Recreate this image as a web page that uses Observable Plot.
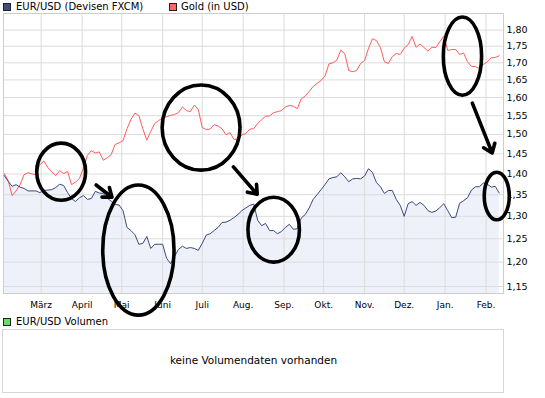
<!DOCTYPE html>
<html><head><meta charset="utf-8">
<script src="https://cdn.jsdelivr.net/npm/d3@7"></script>
<script src="https://cdn.jsdelivr.net/npm/@observablehq/plot@0.6"></script>
<style>
body{margin:0;background:#fff;font-family:"DejaVu Sans",Verdana,sans-serif;color:#000;}
#wrap{position:relative;width:545px;height:398px;overflow:hidden;}
#chart{position:absolute;left:0;top:0;}
#chart svg{overflow:visible;}
.leg{position:absolute;font-size:10px;line-height:12px;white-space:nowrap;}
.sw{position:absolute;width:6px;height:6px;border:1px solid #222;}
#box{position:absolute;left:2px;top:329px;width:502px;height:64px;border:1px solid #d6d6d6;box-sizing:border-box;}
#msg{position:absolute;left:0;width:507px;top:354px;text-align:center;font-size:10.5px;line-height:13px;}
</style></head>
<body>
<div id="wrap">
  <div id="chart"></div>
  <div class="sw" style="left:3px;top:3px;background:#3d4f82"></div>
  <div class="leg" style="left:16px;top:1px">EUR/USD (Devisen FXCM)</div>
  <div class="sw" style="left:169px;top:3px;background:#ff6666"></div>
  <div class="leg" style="left:181px;top:1px">Gold (in USD)</div>
  <div class="sw" style="left:3px;top:318px;background:#66dd66"></div>
  <div class="leg" style="left:16px;top:316px">EUR/USD Volumen</div>
  <div id="box"></div>
  <div id="msg">keine Volumendaten vorhanden</div>
</div>
<script>
const dates = [
"2010-02-01","2010-02-04","2010-02-07","2010-02-10","2010-02-13","2010-02-16","2010-02-19","2010-02-22","2010-02-25","2010-02-28",
"2010-03-03","2010-03-06","2010-03-09","2010-03-12","2010-03-15","2010-03-18","2010-03-21","2010-03-24","2010-03-27","2010-03-30",
"2010-04-02","2010-04-05","2010-04-08","2010-04-11","2010-04-14","2010-04-17","2010-04-20","2010-04-23","2010-04-26","2010-04-29",
"2010-05-02","2010-05-05","2010-05-08","2010-05-11","2010-05-14","2010-05-17","2010-05-20","2010-05-23","2010-05-26","2010-05-29",
"2010-06-01","2010-06-04","2010-06-07","2010-06-10","2010-06-13","2010-06-16","2010-06-19","2010-06-22","2010-06-25","2010-06-28",
"2010-07-01","2010-07-04","2010-07-07","2010-07-10","2010-07-13","2010-07-16","2010-07-19","2010-07-22","2010-07-25","2010-07-28",
"2010-07-31","2010-08-03","2010-08-06","2010-08-09","2010-08-12","2010-08-15","2010-08-18","2010-08-21","2010-08-24","2010-08-27",
"2010-08-30","2010-09-02","2010-09-05","2010-09-08","2010-09-11","2010-09-14","2010-09-17","2010-09-20","2010-09-23","2010-09-26",
"2010-09-29","2010-10-02","2010-10-05","2010-10-08","2010-10-11","2010-10-14","2010-10-17","2010-10-20","2010-10-23","2010-10-26",
"2010-10-29","2010-11-01","2010-11-04","2010-11-07","2010-11-10","2010-11-13","2010-11-16","2010-11-19","2010-11-22","2010-11-25",
"2010-11-28","2010-12-01","2010-12-04","2010-12-07","2010-12-10","2010-12-13","2010-12-16","2010-12-19","2010-12-22","2010-12-25",
"2010-12-28","2010-12-31","2011-01-03","2011-01-06","2011-01-09","2011-01-12","2011-01-15","2011-01-18","2011-01-21","2011-01-24",
"2011-01-27","2011-01-30","2011-02-02","2011-02-05","2011-02-08","2011-02-11"];

const eurusd = [
1.396,1.382,1.370,1.374,1.368,1.365,1.359,1.359,1.359,1.355,
1.360,1.361,1.362,1.367,1.375,1.372,1.355,1.341,1.334,1.343,
1.348,1.339,1.341,1.358,1.354,1.353,1.342,1.335,1.327,1.326,
1.313,1.275,1.268,1.259,1.238,1.240,1.255,1.229,1.238,1.238,
1.238,1.208,1.197,1.212,1.227,1.234,1.229,1.231,1.229,1.225,
1.240,1.258,1.261,1.268,1.275,1.286,1.287,1.291,1.297,1.304,
1.313,1.319,1.325,1.328,1.291,1.279,1.284,1.268,1.268,1.261,
1.266,1.275,1.282,1.271,1.272,1.296,1.304,1.319,1.339,1.350,
1.362,1.374,1.388,1.391,1.393,1.403,1.393,1.381,1.388,1.389,
1.388,1.395,1.413,1.403,1.379,1.369,1.353,1.360,1.360,1.339,
1.325,1.300,1.329,1.334,1.325,1.332,1.325,1.313,1.309,1.312,
1.320,1.329,1.313,1.297,1.298,1.330,1.336,1.343,1.361,1.369,
1.369,1.378,1.375,1.368,1.370,1.354];

const gold = [
1.401,1.384,1.348,1.359,1.374,1.398,1.403,1.400,1.398,1.423,
1.432,1.416,1.405,1.396,1.408,1.401,1.406,1.374,1.380,1.389,
1.414,1.446,1.458,1.452,1.455,1.434,1.440,1.448,1.474,1.478,
1.484,1.515,1.540,1.557,1.550,1.515,1.485,1.508,1.529,1.537,
1.544,1.547,1.551,1.553,1.558,1.574,1.564,1.561,1.579,1.567,
1.518,1.513,1.514,1.526,1.522,1.515,1.499,1.505,1.487,1.488,
1.499,1.502,1.514,1.515,1.529,1.539,1.549,1.549,1.558,1.561,
1.564,1.574,1.578,1.576,1.569,1.596,1.604,1.617,1.631,1.640,
1.648,1.661,1.697,1.700,1.708,1.738,1.727,1.677,1.674,1.677,
1.698,1.707,1.744,1.773,1.767,1.746,1.703,1.698,1.719,1.728,
1.725,1.744,1.755,1.780,1.747,1.757,1.746,1.735,1.747,1.746,
1.764,1.781,1.737,1.740,1.740,1.725,1.729,1.703,1.689,1.689,
1.683,1.695,1.703,1.715,1.716,1.721];

const monthTicks = ["2010-03-01","2010-04-01","2010-05-01","2010-06-01","2010-07-01","2010-08-01","2010-09-01","2010-10-01","2010-11-01","2010-12-01","2011-01-01","2011-02-01"];
const monthLabels = ["März","April","Mai","Juni","Juli","Aug.","Sep.","Okt.","Nov.","Dez.","Jan.","Feb."];
const yTicks = [1.15,1.20,1.25,1.30,1.35,1.40,1.45,1.50,1.55,1.60,1.65,1.70,1.75,1.80];
const xDomain = ["2010-01-31T10:30Z","2011-02-14T05:30Z"];
const yDomain = [1.136, 1.853];

// hand-drawn annotations (data space)
const ellipseLeft   = ["2010-02-26","2010-04-17","2010-06-01","2010-08-05","2010-12-31","2011-01-31"];
const ellipseRight  = ["2010-04-04","2010-06-10","2010-07-30","2010-09-13","2011-01-29","2011-02-19"];
const ellipseTop    = [1.476,1.372,1.634,1.343,1.840,1.403];
const ellipseBottom = [1.336,1.093,1.408,1.199,1.605,1.291];
const arrowFromDate = ["2010-04-12","2010-07-25","2011-01-22"];
const arrowFromVal  = [1.372,1.416,1.583];
const arrowToDate   = ["2010-04-24","2010-08-12","2011-02-06"];
const arrowToVal    = [1.343,1.350,1.451];

const rows = dates.map((d, i) => ({date: new Date(d), eur: eurusd[i], gold: gold[i]}));
const ticks = monthTicks.map(d => new Date(d));
const labelOf = new Map(ticks.map((d, i) => [+d, monthLabels[i]]));
const fmt = v => v.toFixed(2).replace(".", ",");

const plot = Plot.plot({
  width: 545, height: 310,
  marginTop: 13, marginBottom: 17, marginLeft: 3, marginRight: 42,
  style: {fontFamily: "'DejaVu Sans', Verdana, sans-serif", fontSize: "9.5px", color: "#000", background: "transparent", overflow: "visible"},
  x: {type: "utc", domain: xDomain.map(d => new Date(d))},
  y: {type: "log", domain: yDomain},
  marks: [
    Plot.areaY(rows, {x: "date", y1: yDomain[0], y2: "eur", fill: "#eef1fa"}),
    Plot.gridX(ticks, {stroke: "#dcdcdc", strokeOpacity: 1}),
    Plot.gridY(yTicks, {stroke: "#dcdcdc", strokeOpacity: 1}),
    Plot.frame({stroke: "#cdcdcd"}),
    Plot.lineY(rows, {x: "date", y: "gold", stroke: "#ff5c5c", strokeWidth: 1}),
    Plot.lineY(rows, {x: "date", y: "eur", stroke: "#3b4b7c", strokeWidth: 1}),
    Plot.axisX(ticks, {tickSize: 0, tickPadding: 8, tickFormat: d => labelOf.get(+d), fontSize: 9, fill: "#000"}),
    Plot.axisY(yTicks, {anchor: "right", tickSize: 0, tickPadding: 3, tickFormat: fmt, fontSize: 9.5, fill: "#000"})
  ]
});
document.getElementById("chart").appendChild(plot);

const sx = plot.scale("x"), sy = plot.scale("y");
const g = d3.select(plot).append("g")
  .attr("fill", "none").attr("stroke", "#000").attr("stroke-width", 3.6)
  .attr("stroke-linecap", "round").attr("stroke-linejoin", "round");
ellipseLeft.forEach((l, i) => {
  const x1 = sx.apply(new Date(l)), x2 = sx.apply(new Date(ellipseRight[i]));
  const y1 = sy.apply(ellipseTop[i]), y2 = sy.apply(ellipseBottom[i]);
  g.append("ellipse").attr("cx", (x1 + x2) / 2).attr("cy", (y1 + y2) / 2)
    .attr("rx", Math.abs(x2 - x1) / 2).attr("ry", Math.abs(y2 - y1) / 2);
});
arrowFromDate.forEach((f, i) => {
  const x1 = sx.apply(new Date(f)), y1 = sy.apply(arrowFromVal[i]);
  const x2 = sx.apply(new Date(arrowToDate[i])), y2 = sy.apply(arrowToVal[i]);
  const a = Math.atan2(y2 - y1, x2 - x1), L = 10, s = 0.65;
  const p = `M${x1},${y1}L${x2},${y2}` +
    `M${x2 - L * Math.cos(a - s)},${y2 - L * Math.sin(a - s)}L${x2},${y2}L${x2 - L * Math.cos(a + s)},${y2 - L * Math.sin(a + s)}`;
  g.append("path").attr("d", p);
});
</script>
</body></html>
